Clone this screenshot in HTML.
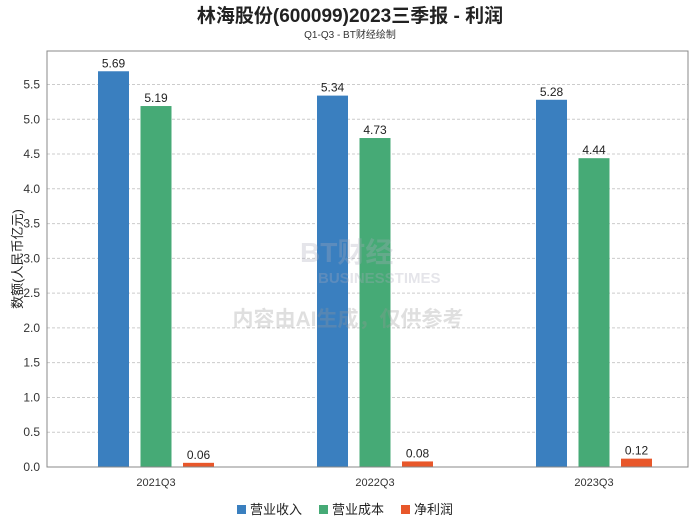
<!DOCTYPE html>
<html><head><meta charset="utf-8"><style>
body{margin:0;background:#fff;}
svg text{font-family:"Liberation Sans","Noto Sans CJK SC",sans-serif;}
</style></head><body>
<svg id="c" width="700" height="524" xmlns="http://www.w3.org/2000/svg">
<text x="350" y="22" text-anchor="middle" font-size="19" font-weight="bold" fill="#222">林海股份(600099)2023三季报 - 利润</text>
<text x="350" y="38" text-anchor="middle" font-size="10" fill="#333">Q1-Q3 - BT财经绘制</text>
<text transform="translate(22,259) rotate(-90)" text-anchor="middle" font-size="13" fill="#222">数额(人民币亿元)</text>
<g id="grid"></g>
<g id="bars"></g>
<g opacity="0.3">
<text x="300" y="262" font-size="28" font-weight="bold" fill="#aab" font-family="Liberation Serif">BT财经</text>
<text x="318" y="283" font-size="15" font-weight="bold" fill="#aab" font-family="Liberation Serif">BUSINESSTIMES</text>
<text x="348" y="326" text-anchor="middle" font-size="21" font-weight="bold" fill="#999">内容由AI生成，仅供参考</text>
</g>
<rect x="47" y="51" width="641" height="416" fill="none" stroke="#888"/>
<g id="legend"></g>
</svg>
<script>
const categories=["2021Q3","2022Q3","2023Q3"];
const seriesNames=["营业收入","营业成本","净利润"];
const revenue=[5.69,5.34,5.28];
const cost=[5.19,4.73,4.44];
const netProfit=[0.06,0.08,0.12];
const yTicks=[0,0.5,1,1.5,2,2.5,3,3.5,4,4.5,5,5.5];
const colors=["#3a7fbf","#46aa76","#e8572a"];
const NS="http://www.w3.org/2000/svg";
const y=v=>467-v*69.55;
const xc=i=>156+i*219;
function mk(tag,attrs,parent,txt){const e=document.createElementNS(NS,tag);for(const k in attrs)e.setAttribute(k,attrs[k]);if(txt!==undefined)e.textContent=txt;parent.appendChild(e);return e;}
const grid=document.getElementById('grid');
yTicks.forEach(t=>{
 if(t>0){const l=mk('line',{x1:47,x2:688,y1:y(t),y2:y(t),stroke:'#ccc','stroke-dasharray':'3,2'},grid);
 
 }
 const tx=mk('text',{x:40,y:y(t)+4,'text-anchor':'end','font-size':12,fill:'#333'},grid,t.toFixed(1));
 
 
});
const bars=document.getElementById('bars');
const all=[revenue,cost,netProfit];
categories.forEach((c,i)=>{
 const tx=mk('text',{x:xc(i),y:486,'text-anchor':'middle','font-size':11,fill:'#333'},bars,c);
 
 
 all.forEach((s,j)=>{
  const cx=xc(i)+(j-1)*42.5;
  const r=mk('rect',{x:cx-15.5,y:y(s[i]),width:31,height:467-y(s[i]),fill:colors[j]},bars);
  
  
  const v=mk('text',{x:cx,y:y(s[i])-4,'text-anchor':'middle','font-size':12,fill:'#222'},bars,s[i].toFixed(2));
  
  
 });
});
const lg=document.getElementById('legend');
const lx=[237,319,401];
seriesNames.forEach((n,j)=>{
 const g=mk('g',{},lg);
 
 
 mk('rect',{x:lx[j],y:505,width:9,height:9,fill:colors[j]},g);
 mk('text',{x:lx[j]+13,y:514,'font-size':13,fill:'#222'},g,n);
});
</script>
</body></html>
